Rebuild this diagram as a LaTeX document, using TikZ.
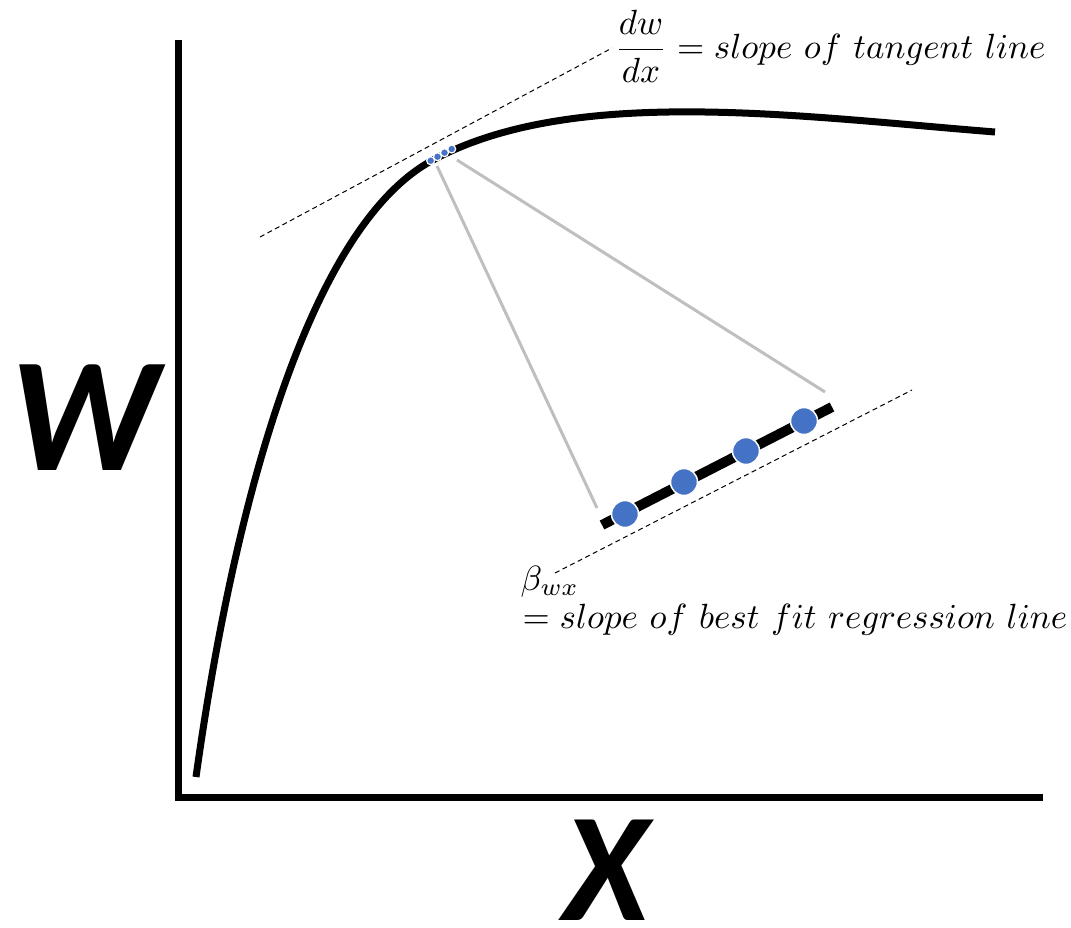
\documentclass[tikz,border=0pt]{standalone}
\usepackage{fontspec}
\newfontfamily\calibri{Carlito}
\definecolor{dotblue}{HTML}{4472C4}
\definecolor{gline}{HTML}{BFBFBF}
\tikzset{
  axisline/.style={line width=7pt, line join=miter},
  curveline/.style={line width=7pt},
  tanline/.style={line width=1pt, dash pattern=on 5pt off 3.5pt},
  grayline/.style={line width=3pt, gline},
  regline/.style={line width=10pt},
  bigdot/.style={circle, fill=dotblue, draw=white, line width=1.5pt, minimum size=27pt, inner sep=0pt},
  smalldot/.style={circle, fill=dotblue, draw=white, line width=1.2pt, minimum size=8pt, inner sep=0pt},
  biglabel/.style={font=\calibri\bfseries\itshape, inner sep=0pt, anchor=base},
  mathlabel/.style={scale=3.5, inner sep=0pt, anchor=base west},
}
\begin{document}
\begin{tikzpicture}[x=1pt,y=-1pt]
\useasboundingbox (0,0) rectangle (1071,927);
% axes
\coordinate (ytop) at (178,40);
\coordinate (origin) at (178,797);
\coordinate (xend) at (1043,797);
\draw[axisline] (ytop) -- (origin) -- (xend);
% curve
\coordinate (c0) at (196,777);
\coordinate (c1) at (433,160);
\coordinate (c2) at (995,132);
\draw[curveline] (c0) .. controls (236,490) and (313,224) .. (c1)
                      .. controls (573,85) and (795,116) .. (c2);
% tangent line
\coordinate (t1) at (260,237);
\coordinate (t2) at (612,48);
\draw[tanline] (t1) -- (t2);
% gray zoom lines
\coordinate (g1a) at (437,166);
\coordinate (g1b) at (597,508);
\coordinate (g2a) at (457,160);
\coordinate (g2b) at (825,392);
\draw[grayline] (g1a) -- (g1b);
\draw[grayline] (g2a) -- (g2b);
% small dots
\node[smalldot] (s1) at (430.7,160.7) {};
\node[smalldot] (s2) at (437.5,156.7) {};
\node[smalldot] (s3) at (444.5,152.7) {};
\node[smalldot] (s4) at (451.7,149.0) {};
% regression segment
\coordinate (r1) at (602,525);
\coordinate (r2) at (832,407);
\draw[regline] (r1) -- (r2);
\node[bigdot] (d1) at (625,514) {};
\node[bigdot] (d2) at (684,482) {};
\node[bigdot] (d3) at (746,451) {};
\node[bigdot] (d4) at (804,421) {};
% lower dashed line
\coordinate (b1) at (555,573);
\coordinate (b2) at (912,390);
\draw[tanline] (b1) -- (b2);
% labels
\node[biglabel, font=\calibri\bfseries\itshape\fontsize{163}{163}\selectfont] (wlab) at (84,470) {W};
\node[biglabel, font=\calibri\bfseries\itshape\fontsize{155}{155}\selectfont] (xlab) at (606,920) {X};
\node[mathlabel] (tanlab) at (614,58) {$\displaystyle\frac{dw}{dx} = slope\ of\ tangent\ line$};
\node[mathlabel] (betalab) at (520,590) {$\beta_{wx}$};
\node[mathlabel] (reglab) at (522,628) {$= slope\ of\ best\ fit\ regression\ line$};
\end{tikzpicture}
\end{document}
